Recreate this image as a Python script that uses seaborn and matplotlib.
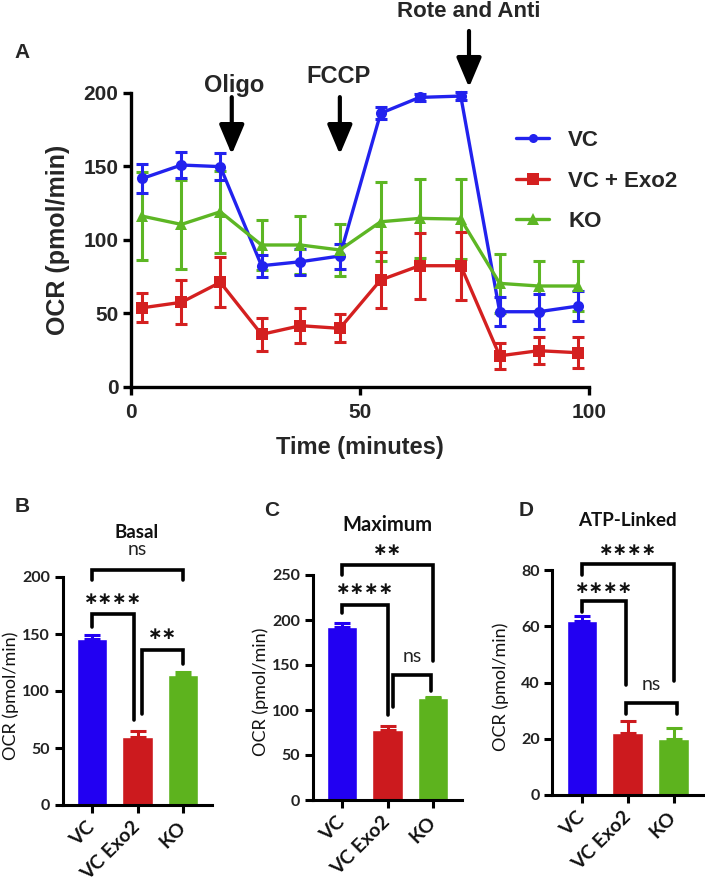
import matplotlib
matplotlib.use("Agg")
import matplotlib.pyplot as plt
import seaborn as sns
import pandas as pd
import numpy as np

# ---------------- data ----------------
time = [2.5, 11, 19.5, 28.5, 37, 45.6, 54.5, 63, 72, 80.5, 89, 97.7]
vc = [141.7, 150.8, 149.7, 82.3, 85.0, 88.9, 186.0, 196.8, 197.7, 51.0, 51.0, 54.9]
vc_err = [10, 9, 9, 7.5, 9, 8.5, 4, 2.5, 2.5, 10, 12, 10]
exo = [53.7, 57.4, 71.0, 35.6, 41.5, 39.7, 72.6, 82.3, 82.3, 21.0, 24.5, 23.1]
exo_err = [10, 15, 17, 11, 12, 9.5, 19, 22.5, 23, 9, 9, 10.5]
ko = [116.0, 110.4, 119.0, 96.4, 96.4, 93.0, 112.2, 114.5, 114.0, 70.3, 68.5, 68.5]
ko_err = [30, 30, 28, 17, 20, 18, 27, 27, 27, 20, 17, 17]
series_names = ["VC", "VC + Exo2", "KO"]

groups = ["VC", "VC Exo2", "KO"]
basal = [146, 60, 114]
basal_err = [3, 5, 2.5]
maximum = [192, 78, 113]
maximum_err = [4.5, 4.5, 1.5]
atp = [61.7, 21.9, 20.0]
atp_err = [2.1, 4.5, 3.9]

injections = ["Oligo", "FCCP", "Rote and Anti"]
injection_times = [22, 45.6, 73.8]

# ---------------- style ----------------
sns.set_theme(style="ticks")
plt.rcParams["font.family"] = ["Liberation Sans", "DejaVu Sans"]

W, H = 705, 884
fig = plt.figure(figsize=(W / 100, H / 100), dpi=100)

def fx(px):
    return px / W

def fy(py):
    return 1 - py / H

line_colors = {"VC": "#2222EE", "VC + Exo2": "#D42020", "KO": "#5DB624"}
marker_sizes = {"VC": 6.5, "VC + Exo2": 8.5, "KO": 8.5}
bar_colors = ["#2200F2", "#CC1A1E", "#5DB31E"]

# ---------------- Panel A ----------------
axA = fig.add_axes([fx(131), fy(386.7), fx(589) - fx(131), fy(92.7) - fy(386.7)])
dfA = pd.concat([
    pd.DataFrame({"Time": time, "OCR": vals, "err": errs, "Group": name})
    for name, vals, errs in zip(series_names, [vc, exo, ko], [vc_err, exo_err, ko_err])
])
for name in ["KO", "VC", "VC + Exo2"]:
    d = dfA[dfA.Group == name]
    axA.errorbar(d.Time, d.OCR, yerr=d.err, fmt="none", ecolor=line_colors[name],
                 elinewidth=2.2, capsize=4, capthick=2.2, zorder=2, clip_on=False)
sns.lineplot(data=dfA, x="Time", y="OCR", hue="Group", style="Group",
             hue_order=series_names, style_order=series_names,
             palette=line_colors, markers={"VC": "o", "VC + Exo2": "s", "KO": "^"},
             dashes=False, linewidth=2.4, markersize=8, markeredgewidth=0,
             ax=axA, zorder=3, clip_on=False)
axA.set_xlim(0, 100)
axA.set_ylim(0, 200)
axA.set_xticks([0, 50, 100])
axA.set_yticks([0, 50, 100, 150, 200])
for s in ["top", "right"]:
    axA.spines[s].set_visible(False)
for s in ["left", "bottom"]:
    axA.spines[s].set_linewidth(2.4)
    axA.spines[s].set_color("black")
axA.tick_params(axis="both", length=6, width=2.4, color="black", labelsize=15, pad=3)
axA.tick_params(axis="x", pad=6)
for lab in axA.get_xticklabels() + axA.get_yticklabels():
    lab.set_fontweight("bold")
axA.set_xlabel("Time (minutes)", fontsize=17, fontweight="bold", labelpad=10)
axA.set_ylabel("OCR (pmol/min)", fontsize=18, fontweight="bold", labelpad=10)

h, l = axA.get_legend_handles_labels()
for line in axA.get_lines():
    lab = line.get_label()
    if lab in marker_sizes:
        line.set_markersize(marker_sizes[lab])
for hd, lb in zip(h, l):
    if lb in marker_sizes:
        hd.set_markersize(marker_sizes[lb])
axA.legend(h, l, loc="upper left", bbox_to_anchor=(fx(516), fy(130)),
           bbox_transform=fig.transFigure, frameon=False, borderpad=0,
           borderaxespad=0, handlelength=1.5, handletextpad=0.85,
           labelspacing=0.88, prop={"family": "Liberation Sans", "weight": "bold", "size": 16})

label_y = [205, 211, 255]
label_x = [22.5, 45.3, 73.8]
arrow_top = [197, 197, 242]
arrow_tip = [158, 158, 203.6]
label_sizes = [17, 17, 16]
for name, t, lx, ly, top, tip, fs in zip(injections, injection_times, label_x, label_y,
                                         arrow_top, arrow_tip, label_sizes):
    axA.text(lx, ly, name, ha="center", va="center", fontsize=fs, fontweight="bold", clip_on=False)
    axA.annotate("", xy=(t, tip), xytext=(t, top),
                 arrowprops=dict(arrowstyle="-|>,head_length=0.9,head_width=0.38",
                                 lw=3, color="black", mutation_scale=20, shrinkA=0, shrinkB=0),
                 annotation_clip=False)

fig.text(fx(22), fy(53), "A", fontsize=15, fontweight="bold", ha="center", va="center")

# ---------------- bar panels ----------------
bar_font = ["Lato", "DejaVu Sans"]

def bar_panel(rect, values, errs, ymax, step, title, title_xy, title_fs, letter, letter_xy, brackets):
    ax = fig.add_axes(rect)
    sns.barplot(x=groups, y=values, hue=groups, palette=bar_colors, width=0.67,
                saturation=1, errorbar=None, legend=False, ax=ax, zorder=2)
    for i, (v, e) in enumerate(zip(values, errs)):
        ax.errorbar([i], [v], yerr=[[0], [e]], fmt="none", ecolor=bar_colors[i],
                    elinewidth=2.2, capsize=5.5, capthick=2.2, zorder=3)
    ax.set_xlim(-0.65, 2.65)
    ax.set_ylim(0, ymax)
    yt = np.arange(0, ymax + 1, step)
    ax.set_yticks(yt)
    for s in ["top", "right"]:
        ax.spines[s].set_visible(False)
    for s in ["left", "bottom"]:
        ax.spines[s].set_linewidth(2.2)
        ax.spines[s].set_color("black")
    ax.tick_params(axis="both", length=6, width=2.2, color="black", pad=3)
    ax.set_yticklabels([f"{int(v)}" for v in yt], fontsize=11.5,
                       fontweight="bold", family=bar_font, color="#222222")
    ax.set_xticks(range(len(groups)))
    ax.set_xticklabels(groups, rotation=45, ha="right", va="center", rotation_mode="anchor",
                       fontsize=14, fontweight="bold", family=bar_font, color="#111111")
    ax.tick_params(axis="x", pad=8)
    ax.set_xlabel("")
    ax.set_ylabel("OCR (pmol/min)", fontsize=13, family=bar_font, color="#111111")
    ax.yaxis.set_label_coords(-0.29, 0.48)
    for x0, x1, y, d0, d1, txt, ty in brackets:
        ax.plot([x0, x0, x1, x1], [d0, y, y, d1], color="black", lw=2.6,
                clip_on=False, solid_joinstyle="miter", zorder=4)
        if txt == "ns":
            ax.text((x0 + x1) / 2, ty, txt, ha="center", va="center", fontsize=14,
                    family=bar_font, color="#222222", clip_on=False)
        else:
            ax.text((x0 + x1) / 2, ty, "\u2217" * len(txt), ha="center", va="center",
                    fontsize=12.5, fontweight="bold", family=["DejaVu Sans"], color="#111111",
                    clip_on=False)
    fig.text(fx(title_xy[0]), fy(title_xy[1]), title, ha="center", va="center",
             fontsize=title_fs, fontweight="bold", family=bar_font, color="#111111")
    fig.text(fx(letter_xy[0]), fy(letter_xy[1]), letter, ha="center", va="center",
             fontsize=15, fontweight="bold", family=["Liberation Sans"])
    return ax

bar_panel([fx(62.7), fy(805), fx(212.3) - fx(62.7), fy(577) - fy(805)],
          basal, basal_err, 200, 50, "Basal", (137, 532), 13.5, "B", (22, 507),
          [(0, 2, 206, 197.5, 197.5, "ns", 224),
           (0, 0.93, 167.5, 156, 75, "****", 181),
           (1.09, 2, 136, 80, 124, "**", 150)])

bar_panel([fx(312.7), fy(800), fx(462.3) - fx(312.7), fy(575) - fy(800)],
          maximum, maximum_err, 250, 50, "Maximum", (387, 525), 14.5, "C", (272, 510),
          [(0, 2, 261, 250, 154, "**", 278),
           (0, 1, 216.7, 207.5, 94, "****", 235),
           (1.13, 1.95, 139, 103.7, 121, "ns", 159)])

bar_panel([fx(552.3), fy(795), fx(703.3) - fx(552.3), fy(570) - fy(795)],
          atp, atp_err, 80, 20, "ATP-Linked", (627, 520), 13.5, "D", (526, 510),
          [(0, 2, 82.3, 78.4, 40.6, "****", 87),
           (0, 0.97, 68.9, 65, 39, "****", 73.6),
           (0.96, 2.08, 32.8, 28.8, 28.8, "ns", 39.2)])

fig.savefig("out.png", dpi=100)
